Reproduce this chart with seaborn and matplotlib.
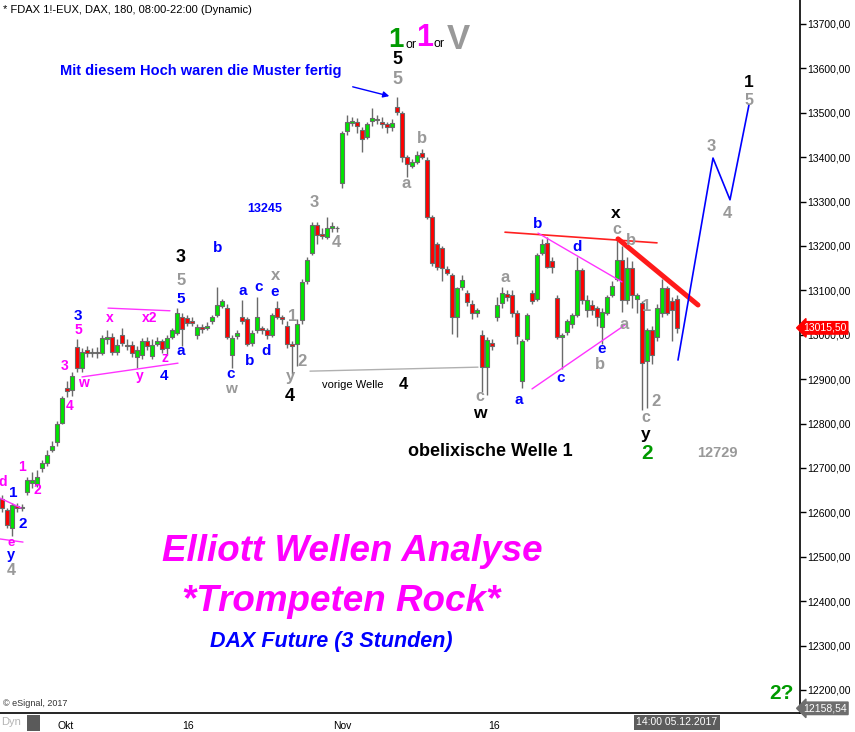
import matplotlib
matplotlib.use("Agg")
import matplotlib.pyplot as plt
import seaborn as sns
import numpy as np
import pandas as pd
from matplotlib.ticker import FuncFormatter
from matplotlib.transforms import blended_transform_factory
from matplotlib.patches import Rectangle

# =========================
# 1. Kursdaten (3-Stunden-Kerzen)
# =========================
opens = [12630, 12605, 12565, 12615, 12610, 12646, 12665, 12664, 12700, 12710,
         12740, 12758, 12802, 12880, 12875, 12972, 12925, 12966, 12960, 12962,
         12960, 12990, 12995, 12962, 13000, 12978, 12978, 12950, 12955, 12985,
         12952, 12980, 12985, 12970, 12995, 13005, 13040, 13038, 13030, 13000,
         13018, 13015, 13030, 13045, 13065, 13060, 12955, 12998, 13040, 13035,
         12982, 13010, 13015, 13010, 13000, 13060, 13040, 13020, 12980, 12980,
         13033, 13120, 13185, 13247, 13228, 13220, 13240, 13240, 13342, 13460,
         13478, 13480, 13462, 13445, 13482, 13486, 13480, 13474, 13468, 13513,
         13500, 13400, 13380, 13390, 13410, 13394, 13265, 13205, 13195, 13148,
         13135, 13040, 13108, 13094, 13070, 13049, 13000, 12928, 12982, 13040,
         13072, 13092, 13090, 13050, 12895, 12990, 13094, 13080, 13185, 13206,
         13165, 13083, 12995, 13006, 13025, 13045, 13146, 13056, 13067, 13060,
         13018, 13050, 13090, 13125, 13168, 13078, 13150, 13080, 13072, 12940,
         13011, 12995, 13050, 13105, 13075, 13080]
highs = [12640, 12610, 12620, 12622, 12618, 12680, 12690, 12695, 12718, 12740,
         12760, 12805, 12862, 12895, 12915, 12990, 12970, 12975, 12970, 12972,
         13000, 13010, 13005, 12990, 13015, 12990, 12985, 12975, 12992, 12995,
         12990, 12995, 12990, 13000, 13015, 13060, 13050, 13045, 13040, 13025,
         13025, 13028, 13045, 13108, 13080, 13070, 13000, 13010, 13078, 13040,
         13010, 13085, 13020, 13015, 13050, 13075, 13045, 13030, 12985, 13035,
         13125, 13175, 13255, 13255, 13240, 13265, 13255, 13245, 13460, 13495,
         13490, 13488, 13468, 13480, 13511, 13495, 13490, 13480, 13485, 13536,
         13505, 13405, 13395, 13415, 13418, 13400, 13270, 13210, 13200, 13155,
         13140, 13108, 13135, 13100, 13078, 13060, 13010, 12995, 12990, 13085,
         13108, 13100, 13100, 13055, 12990, 13050, 13100, 13185, 13215, 13220,
         13175, 13090, 13005, 13035, 13050, 13175, 13150, 13090, 13078, 13065,
         13060, 13090, 13120, 13213, 13200, 13175, 13165, 13095, 13075, 13015,
         13020, 13070, 13125, 13110, 13085, 13090]
lows = [12600, 12565, 12547, 12600, 12602, 12640, 12655, 12658, 12690, 12705,
        12735, 12750, 12798, 12860, 12862, 12915, 12915, 12950, 12950, 12948,
        12955, 12980, 12955, 12955, 12975, 12965, 12950, 12925, 12945, 12965,
        12945, 12975, 12960, 12955, 12990, 13000, 12975, 13020, 13020, 12990,
        13005, 13010, 13025, 13040, 13060, 12990, 12925, 12990, 13025, 12975,
        12975, 13005, 13002, 12990, 12995, 13035, 13025, 12970, 12912, 12930,
        13025, 13115, 13180, 13205, 13215, 13215, 13232, 13232, 13330, 13450,
        13470, 13455, 13412, 13440, 13470, 13475, 13465, 13455, 13460, 13495,
        13390, 13355, 13375, 13385, 13395, 13260, 13155, 13145, 13120, 13135,
        13002, 12995, 13100, 13065, 13035, 13040, 12870, 12865, 12965, 13030,
        13060, 13075, 13040, 12980, 12880, 12985, 13070, 13075, 13180, 13150,
        13140, 12990, 12922, 13000, 13015, 13040, 13070, 13040, 13045, 13020,
        12980, 13045, 13085, 13120, 13051, 13070, 13060, 13050, 12830, 12835,
        12935, 12985, 13040, 13045, 12985, 13005]
closes = [12610, 12572, 12617, 12610, 12612, 12673, 12672, 12680, 12712, 12730,
          12750, 12800, 12858, 12873, 12908, 12925, 12962, 12960, 12962, 12960,
          12993, 12995, 12962, 12978, 12982, 12975, 12960, 12966, 12985, 12975,
          12978, 12987, 12968, 12992, 13010, 13050, 13012, 13027, 13027, 13018,
          13012, 13020, 13040, 13068, 13075, 12995, 12993, 13005, 13030, 12980,
          13004, 13040, 13010, 13000, 13045, 13040, 13035, 12980, 12975, 13025,
          13118, 13168, 13247, 13225, 13222, 13240, 13245, 13240, 13455, 13480,
          13482, 13470, 13440, 13475, 13488, 13484, 13474, 13468, 13476, 13502,
          13400, 13385, 13390, 13405, 13400, 13265, 13162, 13153, 13150, 13140,
          13040, 13105, 13124, 13074, 13050, 13056, 12928, 12988, 12975, 13068,
          13094, 13085, 13050, 12998, 12985, 13045, 13075, 13180, 13205, 13153,
          13153, 12995, 13000, 13030, 13045, 13146, 13078, 13078, 13056, 13040,
          13052, 13085, 13110, 13168, 13078, 13150, 13090, 13090, 12937, 13010,
          12955, 13060, 13105, 13050, 13055, 13015.5]

last_price = 13015.50
chart_low = 12158.54

# Datums-Achse (Kerzen-Index)
date_ticks = [12.8, 37.2, 68, 98.4]
date_labels = ["Okt", "16", "Nov", "16"]
cursor_bar = 135
price_ticks = list(range(12200, 13800, 100))

# Projektion (blau) und Markierungslinien
proj_bar = [135.2, 142.2, 145.6, 149.4]
proj_price = [12943, 13398, 13304, 13518]

lines = [
    # (bars, prices, color, width)
    ([-0.4, 3.8], [12632, 12610], "#ff33ff", 1),
    ([-0.4, 4.2], [12540, 12533], "#ff33ff", 1),
    ([21.2, 33.6], [13060, 13054], "#ff33ff", 1),
    ([16, 35.2], [12905, 12936], "#ff33ff", 1),
    ([61.6, 95.2], [12918, 12927], "#b0b0b0", 1),
    ([100.6, 131], [13231, 13207], "#ff2020", 1.2),
    ([107.2, 124], [13229, 13119], "#ff33ff", 1),
    ([106, 124.6], [12878, 13022], "#ff33ff", 1),
    ([123.2, 139.2], [13216, 13067], "#ff1a1a", 3.6),
]

BLUE, PINK, GRAY, BLACK, GREEN = "#0000ff", "#ff00ff", "#999999", "#000000", "#009a00"

labels = [
    # (text, bar, price, color, size)
    ("5", 79, 13619, BLACK, 13), ("5", 79, 13576, GRAY, 13),
    ("13245", 52.6, 13283, BLUE, 9),
    ("3", 62.4, 13297, GRAY, 12), ("4", 66.8, 13207, GRAY, 12),
    ("b", 84, 13443, GRAY, 12), ("a", 80.8, 13340, GRAY, 12),
    ("3", 35.8, 13173, BLACK, 13), ("5", 35.8, 13123, GRAY, 12),
    ("5", 35.8, 13081, BLUE, 11), ("a", 35.8, 12963, BLUE, 11),
    ("b", 43.2, 13195, BLUE, 11), ("a", 48.2, 13099, BLUE, 11),
    ("c", 51.4, 13108, BLUE, 11), ("e", 54.6, 13096, BLUE, 11),
    ("x", 54.8, 13134, GRAY, 12), ("b", 49.6, 12941, BLUE, 11),
    ("d", 52.8, 12963, BLUE, 11), ("c", 45.8, 12912, BLUE, 11),
    ("w", 45.8, 12878, GRAY, 11),
    ("1", 58.2, 13040, GRAY, 12), ("2", 60, 12939, GRAY, 12),
    ("y", 57.6, 12907, GRAY, 12), ("4", 57.6, 12860, BLACK, 13),
    ("4", 80.2, 12887, BLACK, 12),
    ("3", 15.2, 13042, BLUE, 11), ("5", 15.2, 13011, PINK, 10),
    ("x", 21.6, 13038, PINK, 10), ("x2", 29.6, 13038, PINK, 10),
    ("3", 12.6, 12930, PINK, 10), ("w", 16.2, 12891, PINK, 10),
    ("y", 27.6, 12907, PINK, 10), ("z", 32.6, 12948, PINK, 10),
    ("4", 32.4, 12907, BLUE, 11), ("4", 13.6, 12840, PINK, 10),
    ("1", 4, 12702, PINK, 10), ("2", 7, 12650, PINK, 10),
    ("1", 2.2, 12644, BLUE, 11), ("2", 4.2, 12574, BLUE, 11),
    ("d", 0.2, 12668, PINK, 10), ("e", 1.8, 12531, PINK, 9.5),
    ("y", 1.8, 12503, BLUE, 10.5), ("4", 1.8, 12470, GRAY, 11.5),
    ("c", 95.6, 12860, GRAY, 11.5), ("w", 95.6, 12823, BLACK, 12.5),
    ("a", 100.6, 13130, GRAY, 12), ("a", 103.4, 12853, BLUE, 11),
    ("b", 107.2, 13250, BLUE, 11), ("c", 111.8, 12903, BLUE, 11),
    ("d", 115, 13198, BLUE, 11), ("e", 120, 12968, BLUE, 11),
    ("b", 119.6, 12934, GRAY, 12), ("x", 122.8, 13274, BLACK, 12.5),
    ("c", 123, 13236, GRAY, 11.5), ("b", 125.8, 13213, GRAY, 12),
    ("a", 124.4, 13024, GRAY, 12), ("1", 129, 13063, GRAY, 12),
    ("2", 130.8, 12849, GRAY, 12), ("c", 128.8, 12813, GRAY, 11.5),
    ("y", 128.8, 12776, BLACK, 12.5), ("2", 129, 12732, GREEN, 15),
    ("12729", 143, 12734, GRAY, 10.5),
    ("3", 141.8, 13423, GRAY, 12), ("4", 145, 13272, GRAY, 12),
    ("5", 149.4, 13527, GRAY, 11.5), ("1", 149.4, 13568, BLACK, 12.5),
    ("2?", 155.8, 12193, GREEN, 15),
]

# =========================
# 2. Stil
# =========================
sns.set_theme(style="white")
plt.rcParams["font.family"] = ["Liberation Sans", "DejaVu Sans"]

fig = plt.figure(figsize=(8.55, 7.32), dpi=100)
ax = fig.add_axes([0, 19 / 732, 800 / 855, 713 / 732])

# =========================
# 3. Kerzen
# =========================
df = pd.DataFrame({"open": opens, "high": highs, "low": lows, "close": closes})
df["bar"] = np.arange(len(df))
df["up"] = df["close"] >= df["open"]
body_lo = df[["open", "close"]].min(axis=1)
body_h = (df["close"] - df["open"]).abs()

ax.vlines(df["bar"], df["low"], df["high"], color="#6a6a6a", lw=1, zorder=2)
ax.bar(df["bar"], body_h, bottom=body_lo, width=0.9,
       color=np.where(df["up"], "#00e600", "#ff0000"),
       edgecolor="#6a6a6a", linewidth=0.8, zorder=3)

# Linien
for bx, py, col, lw in lines:
    ax.plot(bx, py, color=col, lw=lw, solid_capstyle="round", zorder=4)

proj = pd.DataFrame({"bar": proj_bar, "price": proj_price})
sns.lineplot(data=proj, x="bar", y="price", sort=False, color="#0000ff", lw=1.2, ax=ax, zorder=4)

# Wellen-Beschriftungen
for s, bx, py, col, size in labels:
    ax.text(bx, py, s, color=col, fontsize=size, fontweight="bold",
            ha="center", va="center", zorder=6)

# Kopfzeile "1 or 1 or V"
ax.text(78.8, 13664, "1", color="#009a00", fontsize=20, fontweight="bold", ha="center", va="center")
ax.text(81.9, 13652, "or", color=BLACK, fontsize=9, ha="center", va="center")
ax.text(84.6, 13668, "1", color=PINK, fontsize=22, fontweight="bold", ha="center", va="center")
ax.text(87.4, 13656, "or", color=BLACK, fontsize=9, ha="center", va="center")
ax.text(91.2, 13664, "V", color=GRAY, fontsize=25, fontweight="bold", ha="center", va="center")

ax.text(39.8, 13594, "Mit diesem Hoch waren die Muster fertig", color=BLUE,
        fontsize=10.5, fontweight="bold", ha="center", va="center")
ax.annotate("", xy=(78, 13536), xytext=(69.6, 13560),
            arrowprops=dict(arrowstyle="-|>", color=BLUE, lw=1, mutation_scale=9))
ax.text(64, 12887, "vorige Welle", color=BLACK, fontsize=8, ha="left", va="center")
ax.text(97.6, 12738, "obelixische Welle 1", color=BLACK, fontsize=13, fontweight="bold",
        ha="center", va="center")

ax.text(70, 12511, "Elliott Wellen Analyse", color=PINK, fontsize=26.5,
        fontweight="bold", fontstyle="italic", ha="center", va="center")
ax.text(67.8, 12400, "*Trompeten Rock*", color=PINK, fontsize=26.5,
        fontweight="bold", fontstyle="italic", ha="center", va="center")
ax.text(65.8, 12310, "DAX Future (3 Stunden)", color=BLUE, fontsize=15.5,
        fontweight="bold", fontstyle="italic", ha="center", va="center")

# =========================
# 4. Achsen
# =========================
ax.set_xlim(-0.4, 159.6)
ax.set_ylim(12148, 13754)
ax.set_xlabel("")
ax.set_ylabel("")
for side in ["left", "top"]:
    ax.spines[side].set_visible(False)
for side in ["right", "bottom"]:
    ax.spines[side].set_visible(True)
    ax.spines[side].set_color("black")
    ax.spines[side].set_linewidth(1.2)

ax.yaxis.tick_right()
ax.set_yticks(price_ticks)
ax.yaxis.set_major_formatter(FuncFormatter(lambda v, p: f"{v:.2f}".replace(".", ",")))
ax.set_xticks(date_ticks)
ax.set_xticklabels(date_labels)
ax.tick_params(axis="both", direction="out", length=4, width=1, color="black",
               labelsize=7.5, labelcolor="black", pad=1.5)
ax.tick_params(axis="x", pad=2)

tr_y = blended_transform_factory(ax.transAxes, ax.transData)
ax.text(1.004, last_price, "13015,50", transform=tr_y, color="white", fontsize=7.5,
        ha="left", va="center", zorder=7,
        bbox=dict(boxstyle="larrow,pad=0.12", fc="#ff0000", ec="#ff0000"))
ax.text(1.004, chart_low, "12158,54", transform=tr_y, color="white", fontsize=7.5,
        ha="left", va="center", zorder=7,
        bbox=dict(boxstyle="larrow,pad=0.12", fc="#6e6e6e", ec="#6e6e6e"))

tr_x = blended_transform_factory(ax.transData, ax.transAxes)
ax.text(cursor_bar, -0.006, "14:00 05.12.2017", transform=tr_x, color="white", fontsize=7.5,
        ha="center", va="top", zorder=7,
        bbox=dict(boxstyle="square,pad=0.25", fc="#5c5c5c", ec="none"))

# Kopf- und Fusszeilen
fig.text(3 / 855, 1 - 10 / 732, "* FDAX 1!-EUX, DAX, 180, 08:00-22:00 (Dynamic)",
         fontsize=8, color="black", ha="left", va="center")
fig.text(3 / 855, (732 - 704) / 732, "\u00a9 eSignal, 2017", fontsize=6.5,
         color="#333333", ha="left", va="center")
fig.text(1 / 855, (732 - 722) / 732, "Dyn", fontsize=8, color="#b5b5b5",
         ha="left", va="center")
fig.patches.append(Rectangle((27 / 855, 1 / 732), 13 / 855, 16 / 732,
                             transform=fig.transFigure, fc="#5a5a5a", ec="none"))

fig.savefig("out.png", dpi=100)
